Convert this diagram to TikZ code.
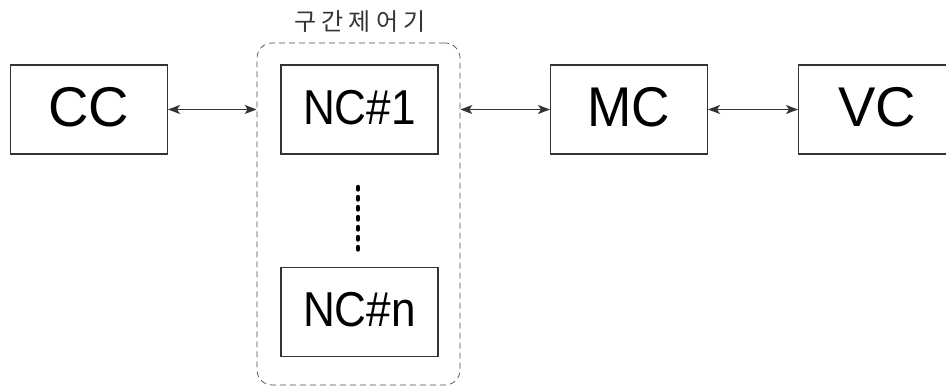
\documentclass[tikz,border=0pt]{standalone}
\usepackage{fontspec}
\setmainfont{Liberation Sans}
\newfontfamily\cjk{Noto Sans CJK KR}
\usetikzlibrary{arrows.meta}
\definecolor{edge}{HTML}{333333}
\newcommand{\gapK}{\hspace{5pt}}
\begin{document}
\begin{tikzpicture}[x=1pt,y=-1pt,
  unit/.style={draw=edge, line width=1.1pt, minimum width=157pt, minimum height=89pt,
    inner sep=0pt, text depth=5pt, font=\fontsize{56}{56}\selectfont},
  ncunit/.style={unit, font=\fontsize{49}{49}\selectfont},
  group/.style={draw=black!70, line width=0.7pt, dash pattern=on 6pt off 4pt,
    rounded corners=15pt, inner sep=0pt},
  tip/.tip={Stealth[length=12pt,width=9pt,inset=3pt]},
  link/.style={line width=1.2pt, draw=edge, tip-tip},
  ellipsis/.style={line width=4.4pt, line cap=round, dash pattern=on 2.5pt off 7.5pt}]
\useasboundingbox (0,0) rectangle (946,387);
\clip (0,0) rectangle (946,387);

% controllers
\node[unit] (cc) at (89,109.5) {CC};
\node[ncunit] (nc1) at (359.5,109.5) {\scalebox{0.9}[1]{NC\#1}};
\node[ncunit] (ncn) at (359.5,312) {\scalebox{0.9}[1]{NC\#n}};
\node[unit] (mc) at (629,109.5) {\scalebox{0.95}[1]{MC}};
\node[unit] (vc) at (877,109.5) {VC};

% section controller group
\node[group, minimum width=203pt, minimum height=342pt] (grp) at (358.5,214) {};
\node[font=\cjk\fontsize{24}{24}\selectfont, text=black!80, inner sep=0pt]
  (grplabel) at (360,22) {구\gapK 간\gapK 제\gapK 어\gapK 기};

% ellipsis between the node controllers
\coordinate (dtop) at (358,187);
\coordinate (dbot) at (358,250);
\draw[ellipsis] (dtop) -- (dbot);

% links
\draw[link] (cc.east) -- (cc.east -| grp.west);
\draw[link] (nc1.east -| grp.east) -- (mc.west);
\draw[link] (mc.east) -- (vc.west);
\end{tikzpicture}
\end{document}
